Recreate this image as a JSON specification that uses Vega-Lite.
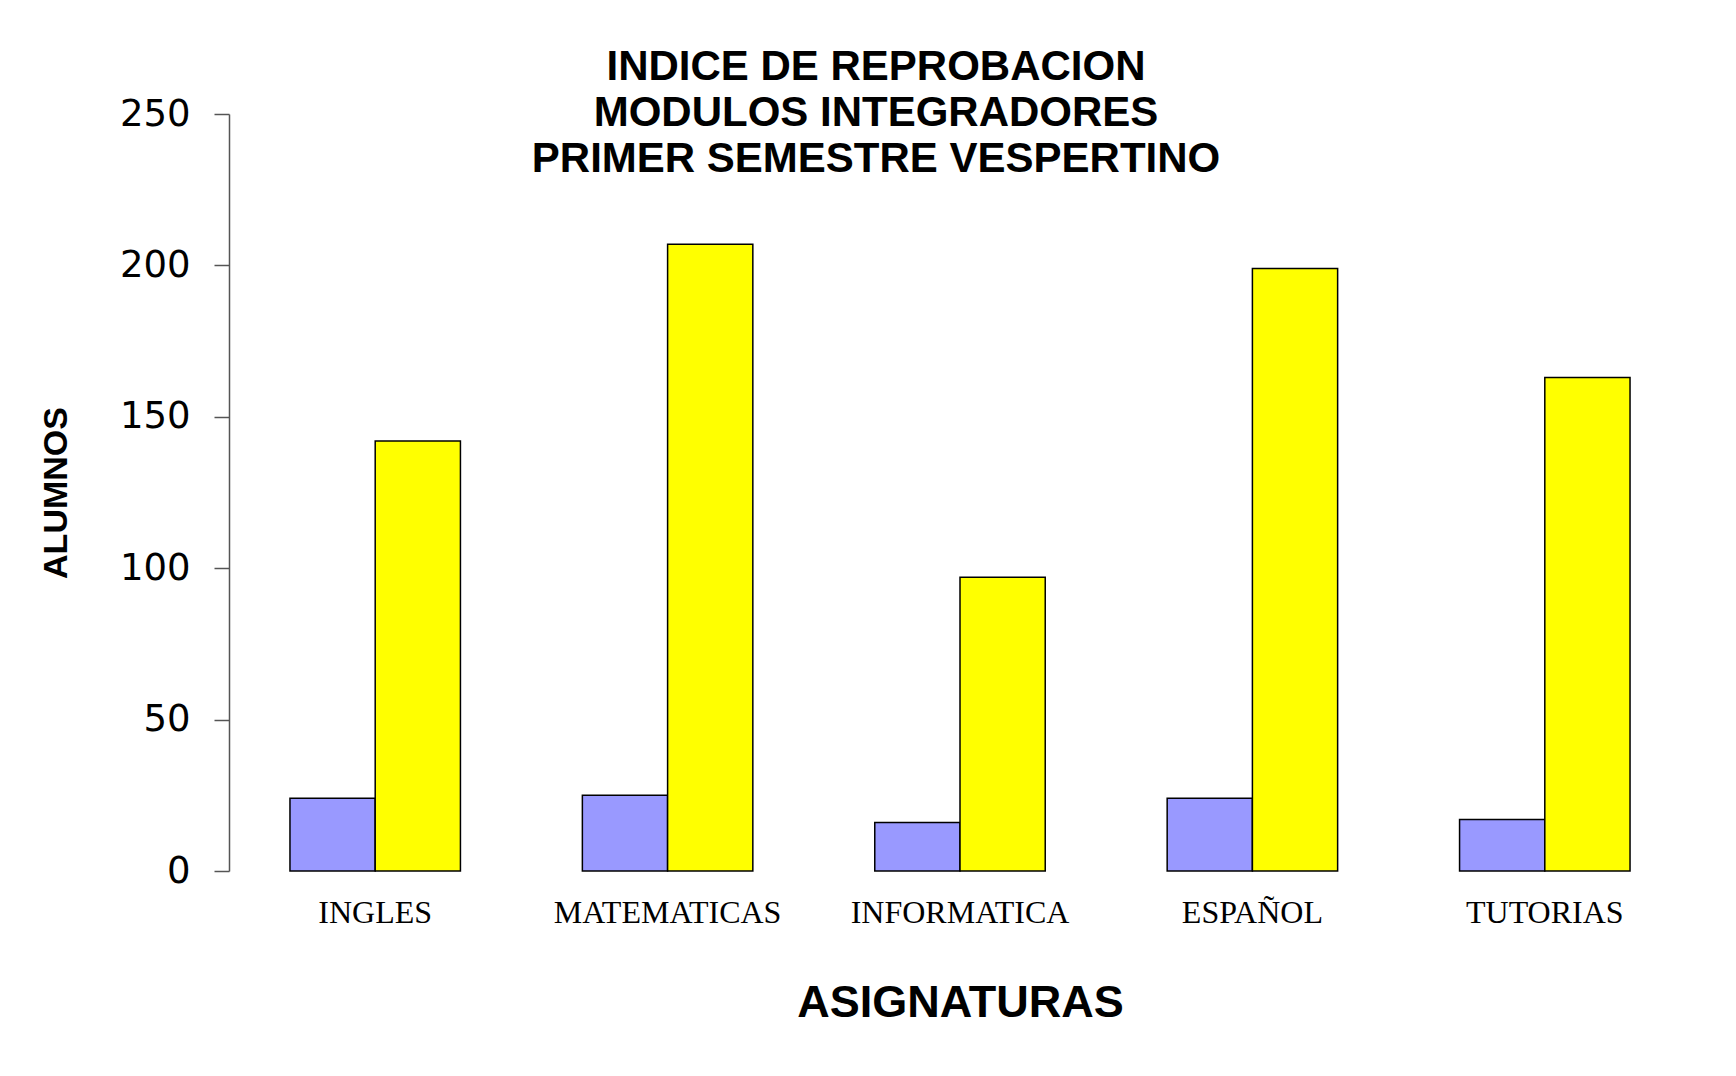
{
  "$schema": "https://vega.github.io/schema/vega-lite/v6.json",
  "autosize": {"type": "none"},
  "width": 1462,
  "height": 757,
  "padding": {"left": 229, "top": 114, "right": 45, "bottom": 205},
  "background": "white",
  "config": {"view": {"stroke": null}},
  "title": {
    "text": ["INDICE DE REPROBACION", "MODULOS INTEGRADORES", "PRIMER SEMESTRE VESPERTINO"],
    "font": "Liberation Sans",
    "fontSize": 42,
    "fontWeight": "bold",
    "lineHeight": 46,
    "color": "black",
    "anchor": "middle",
    "dx": -84,
    "offset": -86
  },
  "data": {
    "values": [
      {"asignatura": "INGLES", "serie": "Reprobados", "alumnos": 24},
      {"asignatura": "INGLES", "serie": "Total", "alumnos": 142},
      {"asignatura": "MATEMATICAS", "serie": "Reprobados", "alumnos": 25},
      {"asignatura": "MATEMATICAS", "serie": "Total", "alumnos": 207},
      {"asignatura": "INFORMATICA", "serie": "Reprobados", "alumnos": 16},
      {"asignatura": "INFORMATICA", "serie": "Total", "alumnos": 97},
      {"asignatura": "ESPAÑOL", "serie": "Reprobados", "alumnos": 24},
      {"asignatura": "ESPAÑOL", "serie": "Total", "alumnos": 199},
      {"asignatura": "TUTORIAS", "serie": "Reprobados", "alumnos": 17},
      {"asignatura": "TUTORIAS", "serie": "Total", "alumnos": 163}
    ]
  },
  "mark": {"type": "bar", "stroke": "black", "strokeWidth": 1.5},
  "encoding": {
    "x": {
      "field": "asignatura",
      "type": "nominal",
      "sort": null,
      "scale": {"paddingInner": 0.417, "paddingOuter": 0.2085},
      "axis": {
        "title": "ASIGNATURAS",
        "titleFont": "Liberation Sans",
        "titleFontSize": 45,
        "titleFontWeight": "bold",
        "titleColor": "black",
        "titlePadding": 52,
        "labelFont": "Liberation Serif",
        "labelFontSize": 32,
        "labelColor": "black",
        "labelAngle": 0,
        "labelPadding": 26,
        "labelLimit": 0,
        "domain": false,
        "ticks": false
      }
    },
    "xOffset": {"field": "serie", "type": "nominal", "scale": {"paddingInner": 0, "paddingOuter": 0}},
    "y": {
      "field": "alumnos",
      "type": "quantitative",
      "scale": {"domain": [0, 250], "nice": false},
      "axis": {
        "title": "ALUMNOS",
        "titleFont": "Liberation Sans",
        "titleFontSize": 34,
        "titleFontWeight": "bold",
        "titleColor": "black",
        "titlePadding": 46,
        "values": [0, 50, 100, 150, 200, 250],
        "labelFont": "DejaVu Sans",
        "labelFontSize": 37,
        "labelColor": "black",
        "labelPadding": 24,
        "tickSize": 15,
        "tickColor": "#555555",
        "tickWidth": 1.5,
        "domainColor": "#555555",
        "domainWidth": 1.5,
        "grid": false
      }
    },
    "color": {
      "field": "serie",
      "type": "nominal",
      "scale": {"domain": ["Reprobados", "Total"], "range": ["#9999FF", "#FFFF00"]},
      "legend": null
    }
  }
}
